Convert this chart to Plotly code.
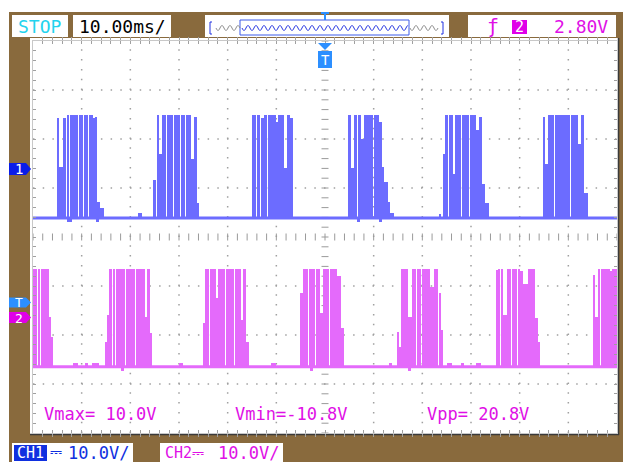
import numpy as np
import plotly.graph_objects as go

# ---------------- data (time in ms, amplitude in V) ----------------
time_range_ms = [-60.0, 60.0]
ms_per_div = 10.0
volts_per_div = 10.0

ch1_low_v = -10.0
ch2_low_v = -10.0

# CH1 bursts: start times and (start offset, end offset, top level) segments
ch1_burst_start_ms = [-54.9, -35.3, -14.9, 4.7, 24.3, 44.8]
ch1_burst_a = [(0.0, 0.3, 10.4), (0.3, 1.2, 0.4), (1.2, 1.6, 10.4), (1.9, 2.3, 10.9),
               (2.5, 4.2, 10.9), (4.4, 5.2, 10.9), (5.4, 6.2, 10.9), (6.4, 7.3, 10.9),
               (7.3, 7.7, 10.3), (7.7, 8.1, 10.6), (8.1, 8.7, -6.7), (8.7, 9.5, -8.0)]
ch1_burst_b = [(0.0, 0.5, -2.2), (0.8, 1.2, 10.9), (1.2, 1.8, 3.0), (1.8, 2.6, 10.9),
               (2.8, 4.0, 10.9), (4.2, 5.6, 10.9), (5.8, 6.6, 10.9), (6.8, 7.8, 10.9),
               (7.8, 8.4, 2.0), (8.4, 8.9, 10.6), (8.9, 9.5, -7.0)]
ch1_burst_c = [(0.0, 0.7, 10.9), (0.9, 1.5, 10.9), (1.8, 2.3, 10.3), (2.3, 2.9, 10.9),
               (3.1, 4.9, 10.9), (4.9, 5.3, 9.6), (5.3, 6.0, 10.9), (6.2, 6.5, 10.9),
               (6.5, 7.0, 0.2), (7.0, 7.7, 10.9), (7.7, 8.3, 10.4)]
ch1_burst_d = [(0.0, 0.7, 10.9), (0.7, 1.4, 0.2), (1.4, 1.8, 10.9), (2.1, 2.7, 10.9),
               (2.9, 3.3, 6.0), (3.3, 5.1, 10.9), (5.4, 6.4, 10.9), (6.4, 7.0, 9.5),
               (7.0, 7.5, 0.4), (7.5, 8.2, -2.7), (8.2, 8.6, -6.7), (8.6, 9.4, -9.0)]
ch1_burst_e = [(0.0, 0.4, 3.0), (0.4, 1.0, 10.9), (1.2, 2.0, 10.9), (2.0, 2.4, -1.0),
               (2.4, 3.6, 10.9), (3.8, 5.2, 10.9), (5.4, 6.8, 10.9), (6.8, 7.3, 8.0),
               (7.3, 8.0, 10.6), (8.0, 8.6, -3.0), (8.6, 9.4, -7.0)]
ch1_burst_f = [(0.0, 0.5, 10.5), (0.5, 1.1, 1.0), (1.1, 2.2, 10.9), (2.4, 3.8, 10.9),
               (4.0, 5.6, 10.9), (5.8, 7.2, 10.9), (7.2, 7.8, 5.0), (7.8, 8.5, 10.9),
               (8.5, 9.2, -5.0)]
ch1_bursts = [ch1_burst_a, ch1_burst_b, ch1_burst_c, ch1_burst_d, ch1_burst_e, ch1_burst_f]
ch1_ripple = [(-38.4, -37.6, -9.0), (23.4, 23.9, -9.2), (-53.0, -52.0, -10.8),
              (-47.0, -46.4, -10.8), (6.5, 7.2, -10.8), (11.0, 11.8, -10.8)]

# CH2 bursts
ch2_burst_start_ms = [-65.1, -45.2, -25.1, -5.1, 14.8, 35.1, 55.1]
ch2_burst_a = [(0.0, 5.1, 10.0), (5.1, 5.9, 10.0), (6.1, 6.6, 10.0), (6.8, 8.3, 10.0),
               (8.3, 8.9, 0.2), (8.9, 9.2, -4.0)]
ch2_burst_b = [(0.0, 0.4, -4.9), (0.4, 1.0, 0.6), (1.0, 1.4, 10.0), (1.6, 2.1, 10.0),
               (2.3, 4.1, 10.0), (4.3, 6.2, 10.0), (6.4, 8.2, 10.0), (8.2, 8.8, 0.2),
               (8.8, 9.2, 10.0), (9.2, 9.7, -3.0)]
ch2_burst_c = [(0.0, 0.5, -1.0), (0.5, 1.2, 10.0), (1.4, 2.6, 10.0), (2.8, 3.2, 4.0),
               (3.2, 4.6, 10.0), (4.8, 6.4, 10.0), (6.6, 7.8, 10.0), (7.8, 8.4, -0.5),
               (8.4, 8.8, 10.0), (8.8, 9.4, -5.0)]
ch2_burst_d = [(0.0, 0.6, 5.0), (0.6, 1.6, 10.0), (1.8, 3.0, 10.0), (3.2, 4.0, 10.0),
               (4.0, 4.6, 1.0), (4.6, 6.0, 10.0), (6.2, 7.6, 10.0), (7.6, 8.4, 8.5),
               (8.4, 9.0, -2.0)]
ch2_burst_e = [(0.0, 0.35, -2.9), (0.35, 0.76, -6.0), (0.76, 2.2, 10.0), (2.2, 3.1, 0.2),
               (3.1, 4.0, 10.0), (4.2, 5.0, 10.0), (5.2, 6.8, 10.0), (6.8, 7.5, 6.3),
               (7.5, 8.5, 10.0), (8.7, 9.0, 5.0), (9.0, 9.5, -2.5)]
ch2_burst_f = [(0.0, 0.5, 9.7), (0.5, 0.95, 10.0), (1.15, 1.5, 10.0), (1.5, 2.2, 0.6),
               (2.2, 3.2, 10.0), (3.4, 4.4, 10.0), (4.6, 4.9, 10.0), (4.9, 5.6, 9.5),
               (5.6, 6.6, 7.0), (6.6, 8.0, 10.0), (8.0, 8.7, 0.0), (8.7, 8.9, -5.0)]
ch2_burst_g = [(0.0, 0.4, 8.8), (0.4, 0.9, 0.2), (0.9, 1.5, 10.0), (1.7, 3.4, 10.0),
               (3.4, 3.8, 9.5), (3.8, 5.5, 10.0), (5.7, 9.0, 10.0)]
ch2_bursts = [ch2_burst_a, ch2_burst_b, ch2_burst_c, ch2_burst_d, ch2_burst_e,
              ch2_burst_f, ch2_burst_g]
ch2_ripple = [(-51.8, -50.8, -9.3), (-49.4, -48.8, -9.3), (-47.8, -46.4, -9.3),
               (13.1, 13.7, -9.3), (25.0, 26.0, -9.3), (28.0, 28.6, -9.3),
               (31.0, 32.0, -9.3), (-30.0, -29.2, -9.3), (-11.0, -10.0, -9.3),
               (-42.0, -41.4, -10.8), (-3.0, -2.4, -10.8), (17.0, 17.6, -10.8)]

measurement_labels = ["Vmax= 10.0V", "Vmin=-10.8V", "Vpp= 20.8V"]
timebase_label = "10.00ms/"
trigger_level_label = "2.80V"
ch1_scale_label = "10.0V/"
ch2_scale_label = "10.0V/"

# ---------------- layout geometry (pixels) ----------------
W, H = 623, 462
PL, PR, PT, PB = 33, 617, 41, 433
ch1_ground_div = 1.39
ch2_ground_div = -1.65

CH1 = "#6C6CFF"
CH2 = "#E46AFB"
BROWN = "#896A3D"
MAG = "#E010E6"
FONT = "DejaVu Sans Mono"


def px(x):
    return (x - PL) / (PR - PL)


def py(y):
    return (PB - y) / (PB - PT)


def bars(starts, bursts, ripple, low):
    xs, ws, bs, hs = [], [], [], []
    items = []
    for t0, segs in zip(starts, bursts):
        for s, e, v in segs:
            items.append((t0 + s, t0 + e, v))
    items += list(ripple)
    for s, e, v in items:
        lo, hi = min(v, low), max(v, low)
        xs.append((s + e) / 2)
        ws.append(e - s)
        bs.append(lo)
        hs.append(hi - lo)
    return xs, ws, bs, hs


fig = go.Figure()

# centre cross ticks
ch1_center = -ch1_ground_div * volts_per_div
tx = np.arange(time_range_ms[0], time_range_ms[1] + 0.01, ms_per_div / 5)
fig.add_trace(go.Scatter(x=tx, y=[ch1_center] * len(tx), mode="markers",
                         marker=dict(symbol="line-ns", size=5, line=dict(width=1, color="#9A9A9A")),
                         hoverinfo="skip", showlegend=False))
ty = ch1_center + np.arange(-4 * volts_per_div, 4 * volts_per_div + 0.01, volts_per_div / 5)
fig.add_trace(go.Scatter(x=[0.0] * len(ty), y=ty, mode="markers",
                         marker=dict(symbol="line-ew", size=5, line=dict(width=1, color="#9A9A9A")),
                         hoverinfo="skip", showlegend=False))

for starts, bursts_, ripple, low, col, ax in [
        (ch1_burst_start_ms, ch1_bursts, ch1_ripple, ch1_low_v, CH1, "y"),
        (ch2_burst_start_ms, ch2_bursts, ch2_ripple, ch2_low_v, CH2, "y2")]:
    fig.add_trace(go.Scatter(x=time_range_ms, y=[low, low], mode="lines",
                             line=dict(color=col, width=3), yaxis=ax,
                             hoverinfo="skip", showlegend=False))
    xs, ws, bs, hs = bars(starts, bursts_, ripple, low)
    fig.add_trace(go.Bar(x=xs, y=hs, base=bs, width=ws, yaxis=ax,
                         marker=dict(color=col, line=dict(width=0)),
                         hoverinfo="skip", showlegend=False))

shapes = []
# white strips outside the scope frame
shapes.append(dict(type="rect", xref="paper", yref="paper", x0=px(0), x1=px(W), y0=py(12), y1=py(0),
                   fillcolor="white", line=dict(width=0), layer="below"))
shapes.append(dict(type="rect", xref="paper", yref="paper", x0=px(0), x1=px(9), y0=py(H), y1=py(0),
                   fillcolor="white", line=dict(width=0), layer="below"))
# screen border
shapes.append(dict(type="rect", xref="paper", yref="paper", x0=px(30), x1=px(618), y0=py(434), y1=py(38),
                   fillcolor="white", line=dict(width=0), layer="below"))
shapes.append(dict(type="line", xref="paper", yref="paper", x0=px(618.5), x1=px(618.5), y0=py(435), y1=py(38),
                   line=dict(color="#3A3A3A", width=1.5), layer="below"))
shapes.append(dict(type="line", xref="paper", yref="paper", x0=px(30), x1=px(619), y0=py(434.5), y1=py(434.5),
                   line=dict(color="#3A3A3A", width=1.5), layer="below"))
# dotted graticule
for k in range(1, 12):
    if k == 6:
        continue
    shapes.append(dict(type="line", xref="paper", yref="paper", x0=k / 12, x1=k / 12, y0=0, y1=1,
                       line=dict(color="#A0A0A0", width=1.5, dash="1.5px,8.3px"), layer="below"))
for j in range(1, 8):
    if j == 4:
        continue
    shapes.append(dict(type="line", xref="paper", yref="paper", x0=0, x1=1, y0=j / 8, y1=j / 8,
                       line=dict(color="#A0A0A0", width=1.5, dash="1.5px,8.2px"), layer="below"))


def box(x0, x1, y0, y1, fill="white", line_col=None):
    shapes.append(dict(type="rect", xref="paper", yref="paper", x0=px(x0), x1=px(x1),
                       y0=py(y1), y1=py(y0), fillcolor=fill,
                       line=dict(width=1 if line_col else 0, color=line_col or fill)))


# top bar boxes
box(12, 68, 15, 37)
box(73, 171, 15, 37)
box(205, 449, 15, 37)
box(468, 616, 15, 37)
# bottom bar boxes
box(12, 133, 443, 463)
box(160, 283, 443, 463)
# overview window
box(240, 409, 20, 35, fill="white", line_col="#3C5BE8")


def wave_path(x0, x1, yc, amp, per):
    xs = np.arange(x0, x1 + 0.01, 0.5)
    ys = yc + amp * np.sin(2 * np.pi * (xs - x0) / per)
    return "M " + " L ".join(f"{px(a):.5f},{py(b):.5f}" for a, b in zip(xs, ys))


shapes.append(dict(type="path", xref="paper", yref="paper", path=wave_path(216, 240, 28, 2.5, 8),
                   line=dict(color="#8A8A8A", width=1)))
shapes.append(dict(type="path", xref="paper", yref="paper", path=wave_path(242, 408, 28, 2.5, 8),
                   line=dict(color="#2030E0", width=1)))
shapes.append(dict(type="path", xref="paper", yref="paper", path=wave_path(410, 438, 28, 2.5, 8),
                   line=dict(color="#8A8A8A", width=1)))
# brackets
for xa, xb in [(212, 210), (441, 443)]:
    shapes.append(dict(type="path", xref="paper", yref="paper",
                       path=f"M {px(xa)},{py(22)} L {px(xb)},{py(22)} L {px(xb)},{py(34)} L {px(xa)},{py(34)}",
                       line=dict(color="#2030E0", width=1)))
# trigger position marker in overview
shapes.append(dict(type="path", xref="paper", yref="paper",
                   path=f"M {px(321)},{py(13)} L {px(329)},{py(13)} M {px(325)},{py(13)} L {px(325)},{py(20)}",
                   line=dict(color="#2C8FFF", width=2)))


def tag(y, col, h=6):
    p = (f"M {px(9)},{py(y - h)} L {px(26)},{py(y - h)} L {px(31)},{py(y)} "
         f"L {px(26)},{py(y + h)} L {px(9)},{py(y + h)} Z")
    shapes.append(dict(type="path", xref="paper", yref="paper", path=p, fillcolor=col,
                       line=dict(width=0)))


tag(169, "#0A1CE8")
tag(302.5, "#2C8FFF", 5)
tag(317.5, "#E000E8", 5.5)
# top trigger-position marker
shapes.append(dict(type="path", xref="paper", yref="paper",
                   path=(f"M {px(318)},{py(43)} L {px(332)},{py(43)} L {px(325)},{py(50)} Z"),
                   fillcolor="#2C8FFF", line=dict(width=0)))
shapes.append(dict(type="rect", xref="paper", yref="paper", x0=px(318), x1=px(332), y0=py(68), y1=py(51),
                   fillcolor="#2C8FFF", line=dict(width=0)))
# trigger source chip "2"
box(512, 527, 20, 34, fill="#E000E8")
# CH1 highlighted label
box(14, 47, 445, 461, fill="#1030E0")

ann = []


def text(x, y, s, col, size=18, anchor="center"):
    ann.append(dict(x=px(x), y=py(y), xref="paper", yref="paper", text=s, showarrow=False,
                    xanchor=anchor, yanchor="middle",
                    font=dict(family=FONT, size=size, color=col)))


text(40, 26, "STOP", "#23D3EE")
text(122, 26, timebase_label, "black")
text(493, 26, "ƒ", MAG, 20)
text(519.5, 27, "2", "white", 15)
text(610, 26, trigger_level_label, MAG, anchor="right")
text(325, 60, "T", "white", 14)
text(19, 169, "1", "white", 14)
text(19, 302.5, "T", "white", 13)
text(19, 318, "2", "white", 13)
text(30.5, 453, "CH1", "white", 15)
text(56, 452, "⎓", "#1030E0", 15)
text(131, 453, ch1_scale_label, "#1030E0", 17, anchor="right")
text(163, 453, "CH2⎓", MAG, 15, anchor="left")
text(281, 453, ch2_scale_label, MAG, 17, anchor="right")
for xl, lab in zip([42, 233, 425], measurement_labels):
    text(xl, 414, lab, MAG, 17, anchor="left")

fig.update_layout(
    width=W, height=H,
    margin=dict(l=PL, r=W - PR, t=PT, b=H - PB, pad=0),
    paper_bgcolor=BROWN, plot_bgcolor="white",
    barmode="overlay", bargap=0,
    showlegend=False,
    shapes=shapes, annotations=ann,
    xaxis=dict(range=time_range_ms, showgrid=False, zeroline=False, showticklabels=False,
               ticks="inside", ticklen=3, tickcolor="#A0A0A0", tick0=time_range_ms[0],
               dtick=ms_per_div / 5, mirror="allticks", showline=True, linecolor="#C8C8C8",
               linewidth=1, fixedrange=True),
    yaxis=dict(range=[-(4 + ch1_ground_div) * volts_per_div, (4 - ch1_ground_div) * volts_per_div],
               showgrid=False, zeroline=False, showticklabels=False, ticks="inside", ticklen=3,
               tickcolor="#A0A0A0", tick0=ch1_center, dtick=volts_per_div / 5,
               mirror="allticks", showline=True, linecolor="#C8C8C8", linewidth=1, fixedrange=True),
    yaxis2=dict(range=[-(4 + ch2_ground_div) * volts_per_div, (4 - ch2_ground_div) * volts_per_div],
                overlaying="y", visible=False, fixedrange=True),
)

fig.write_html("out.html", config={"displayModeBar": False},
               post_script="document.body.style.margin='0';document.body.style.overflow='hidden';")
